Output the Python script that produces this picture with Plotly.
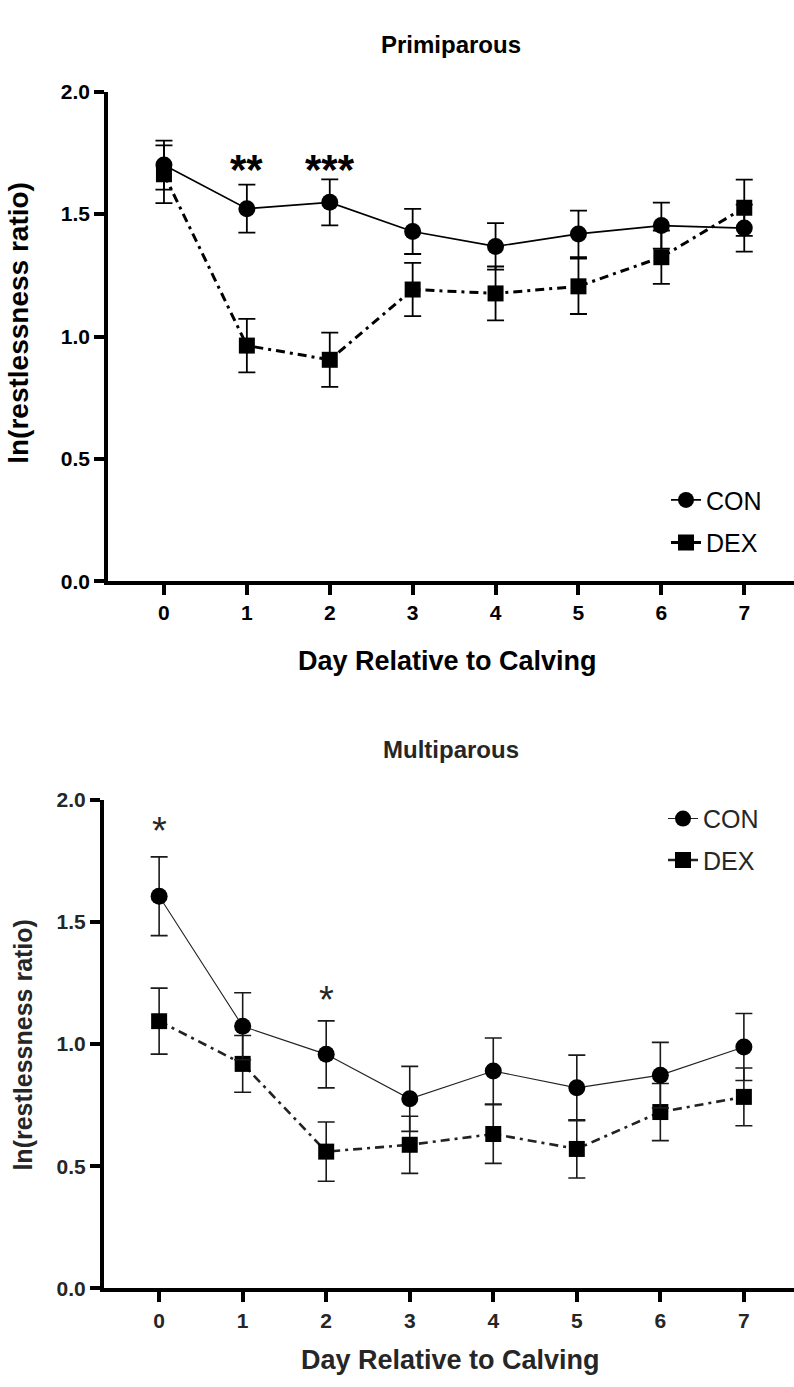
import plotly.graph_objects as go

days = [0, 1, 2, 3, 4, 5, 6, 7]
tick_labels = ["0", "1", "2", "3", "4", "5", "6", "7"]
y_ticks = [0, 0.5, 1.0, 1.5, 2.0]
y_tick_labels = ["0.0", "0.5", "1.0", "1.5", "2.0"]

# Primiparous
prim_con = [1.70, 1.522, 1.548, 1.429, 1.368, 1.419, 1.453, 1.443]
prim_con_se = [0.10, 0.098, 0.094, 0.092, 0.095, 0.095, 0.094, 0.096]
prim_dex = [1.663, 0.963, 0.905, 1.192, 1.176, 1.205, 1.324, 1.526]
prim_dex_se = [0.118, 0.109, 0.111, 0.109, 0.11, 0.113, 0.109, 0.115]

# Multiparous
multi_con = [1.605, 1.073, 0.958, 0.776, 0.890, 0.821, 0.873, 0.988]
multi_con_se = [0.161, 0.137, 0.137, 0.133, 0.135, 0.134, 0.134, 0.137]
multi_dex = [1.094, 0.919, 0.560, 0.588, 0.632, 0.571, 0.722, 0.784]
multi_dex_se = [0.135, 0.116, 0.121, 0.117, 0.120, 0.119, 0.117, 0.118]

sig_top = [(1, 1.72, "**"), (2, 1.72, "***")]
sig_bot = [(0, 1.905, "*"), (2, 1.214, "*")]

W, H = 794, 1387
FONT = "Liberation Sans, Arial, sans-serif"
DASHDOT = "9px,5px,3px,5px"
BOT_COL = "#262626"

def py(p):
    return 1 - p / H

def px(p):
    return p / W

fig = go.Figure()

def add_pair(con, con_se, dex, dex_se, xa, ya, leg, con_w, dex_w, ecol, ew, lcol):
    fig.add_trace(go.Scatter(
        x=days, y=dex, name="DEX", mode="lines+markers",
        line=dict(color=lcol, width=dex_w, dash=DASHDOT),
        marker=dict(symbol="square", size=16, color="black"),
        error_y=dict(type="data", array=dex_se, visible=True, color=ecol, thickness=ew, width=8.5),
        xaxis=xa, yaxis=ya, legend=leg, legendgroup=leg + "dex", legendrank=2,
    ))
    fig.add_trace(go.Scatter(
        x=days, y=con, name="CON", mode="lines+markers",
        line=dict(color=lcol, width=con_w),
        marker=dict(symbol="circle", size=17, color="black"),
        error_y=dict(type="data", array=con_se, visible=True, color=ecol, thickness=ew, width=8.5),
        xaxis=xa, yaxis=ya, legend=leg, legendgroup=leg + "con", legendrank=1,
    ))

add_pair(prim_con, prim_con_se, prim_dex, prim_dex_se, "x", "y", "legend", 1.7, 3.0, "black", 1.8, "black")
add_pair(multi_con, multi_con_se, multi_dex, multi_dex_se, "x2", "y2", "legend2", 1.1, 2.6, "#1a1a1a", 1.6, "#222222")

axis_common = dict(showline=True, linecolor="black", ticks="outside", tickcolor="black",
                   showgrid=False, zeroline=False, mirror=False)
TF_TOP = dict(size=21, family=FONT, weight="bold", color="black")
TF_BOT = dict(size=21, family=FONT, weight="bold", color=BOT_COL)

fig.update_layout(
    width=W, height=H,
    margin=dict(l=0, r=0, t=0, b=0),
    paper_bgcolor="white", plot_bgcolor="white",
    font=dict(family=FONT, color="black"),
    xaxis=dict(domain=[px(108), 1.0], range=[-0.675, 7.6], tickvals=days, ticktext=tick_labels,
               linewidth=3.5, tickwidth=3.5, ticklen=10, anchor="y", tickfont=TF_TOP, **axis_common),
    yaxis=dict(domain=[py(579), py(81)], range=[0, 2], tickvals=y_ticks, ticktext=y_tick_labels,
               linewidth=3.5, tickwidth=3.5, ticklen=10, anchor="x", tickfont=TF_TOP, **axis_common),
    xaxis2=dict(domain=[px(104), 1.0], range=[-0.66, 7.6], tickvals=days, ticktext=tick_labels,
                linewidth=4, tickwidth=3.5, ticklen=10, anchor="y2", tickfont=TF_BOT, **axis_common),
    yaxis2=dict(domain=[py(1298), py(801)], range=[0, 2], tickvals=y_ticks, ticktext=y_tick_labels,
                linewidth=4, tickwidth=3.5, ticklen=10, anchor="x2", tickfont=TF_BOT, **axis_common),
    legend=dict(x=px(666), y=py(473), xanchor="left", yanchor="top", bgcolor="rgba(0,0,0,0)",
                font=dict(size=25, family=FONT), tracegroupgap=7, itemwidth=30),
    legend2=dict(x=px(663), y=py(797), xanchor="left", yanchor="top", bgcolor="rgba(0,0,0,0)",
                 font=dict(size=25, family=FONT, color=BOT_COL), tracegroupgap=6, itemwidth=30),
    showlegend=True,
)

def text_ann(text, x, y, size, color="black", angle=0):
    return dict(text=text, x=px(x), y=py(y), xref="paper", yref="paper", showarrow=False,
                xanchor="center", yanchor="middle", textangle=angle,
                font=dict(size=size, family=FONT, color=color))

ann = [
    text_ann("<b>Primiparous</b>", 451, 33, 24),
    text_ann("<b>Multiparous</b>", 451, 750, 24, BOT_COL),
    text_ann("<b>Day Relative to Calving</b>", 447, 660, 27),
    text_ann("<b>Day Relative to Calving</b>", 450, 1371, 27, BOT_COL),
    text_ann("<b>ln(restlessness ratio)</b>", 19, 316, 28, angle=-90),
    text_ann("<b>ln(restlessness ratio)</b>", 23, 1050, 25, BOT_COL, angle=-90),
]
for d, v, s in sig_top:
    ann.append(dict(text="<b>" + s + "</b>", x=d, y=v, xref="x", yref="y", showarrow=False,
                    xanchor="center", yanchor="middle", yshift=-9,
                    font=dict(size=42, family=FONT, color="black")))
for d, v, s in sig_bot:
    ann.append(dict(text=s, x=d, y=v, xref="x2", yref="y2", showarrow=False,
                    xanchor="center", yanchor="middle", yshift=-8,
                    font=dict(size=38, family=FONT, color=BOT_COL)))
fig.update_layout(annotations=ann)

fig.write_html("out.html", post_script="document.body.style.margin='0px';",
               config={"displayModeBar": False})
